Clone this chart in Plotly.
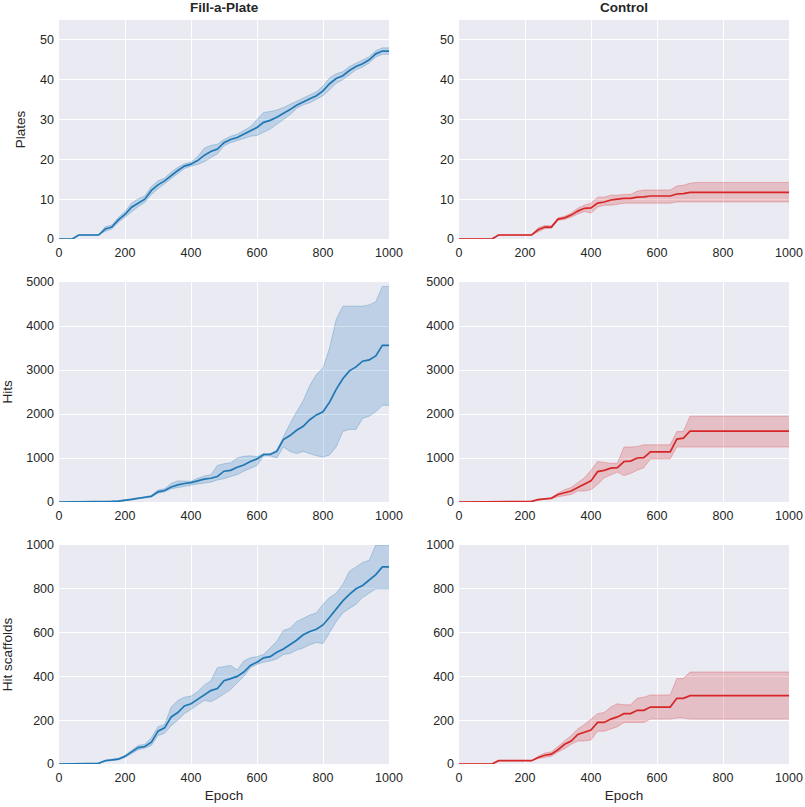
import plotly.graph_objects as go

epochs = list(range(0, 1001, 20))

# Fill-a-Plate : Plates
fap_plates_mean = [0, 0, 0, 1, 1, 1, 1, 2.5, 3, 4.8, 6.2, 8, 9.1, 10, 12.2, 13.6, 14.6, 16, 17.2, 18.3, 18.8,
                   19.7, 21, 22, 22.6, 24.2, 25, 25.5, 26.3, 27, 28, 29.3, 29.8, 30.6, 31.5, 32.5, 33.6, 34.5,
                   35.2, 36, 37.2, 39, 40.3, 41, 42.3, 43.3, 44, 45, 46.5, 47.2, 47.2]
fap_plates_lo = [0, 0, 0, 1, 1, 1, 1, 1.9, 2.5, 4.2, 5.5, 7, 8.1, 9.2, 11.2, 12.6, 13.9, 15.2, 16.4, 17.7, 18.3,
                 18.7, 19.4, 20.5, 21.4, 23.4, 24.2, 24.7, 25.3, 25.8, 26, 26.8, 27.6, 28.8, 30, 31.2, 32.8, 33.7,
                 34.2, 35, 36, 37.5, 39.1, 40, 41.3, 42.5, 43.2, 44.2, 45.7, 46.4, 46.4]
fap_plates_hi = [0, 0, 0, 1, 1, 1, 1, 3.1, 3.5, 5.4, 6.9, 9, 10.1, 10.8, 13.2, 14.6, 15.3, 16.8, 18, 18.9, 19.3,
                 20.7, 22.8, 23.5, 23.8, 25, 25.8, 26.3, 27.3, 28.2, 30, 31.8, 32, 32.4, 33, 33.8, 34.4, 35.3,
                 36.2, 37, 38.4, 40.5, 41.5, 42, 43.3, 44.1, 44.8, 45.8, 47.3, 48, 48]

# Control : Plates
ctl_plates_mean = [0, 0, 0, 0, 0, 0, 1, 1, 1, 1, 1, 1, 2.3, 3, 3, 5, 5.3, 6, 7, 7.7, 7.8,
                   9, 9.3, 9.8, 10, 10.2, 10.2, 10.5, 10.6, 10.8, 10.8, 10.8, 10.8, 11.3, 11.4, 11.7, 11.7, 11.7,
                   11.7, 11.7, 11.7, 11.7, 11.7, 11.7, 11.7, 11.7, 11.7, 11.7, 11.7, 11.7, 11.7]
ctl_plates_lo = [0, 0, 0, 0, 0, 0, 1, 1, 1, 1, 1, 1, 1.8, 2.6, 2.7, 4.7, 4.9, 5.5, 6.3, 6.9, 6.5,
                 8, 8.5, 8.5, 8.7, 9, 9, 9, 9, 9, 9, 9, 9, 9.3, 9.3, 9.3, 9.3, 9.3,
                 9.3, 9.3, 9.3, 9.3, 9.3, 9.3, 9.3, 9.3, 9.3, 9.3, 9.3, 9.3, 9.3]
ctl_plates_hi = [0, 0, 0, 0, 0, 0, 1, 1, 1, 1, 1, 1, 2.8, 3.4, 3.3, 5.3, 5.7, 6.5, 7.7, 8.5, 9,
                 10.5, 10.5, 11, 11, 11.2, 11.2, 12, 12.3, 12.3, 12.3, 12.3, 12.3, 13.3, 13.5, 14, 14.2, 14.2,
                 14.2, 14.2, 14.2, 14.2, 14.2, 14.2, 14.2, 14.2, 14.2, 14.2, 14.2, 14.2, 14.2]

# Fill-a-Plate : Hits
fap_hits_mean = [0, 0, 0, 0, 0, 0, 5, 8, 12, 20, 35, 60, 85, 100, 130, 230, 260, 340, 390, 420, 440,
                 480, 520, 540, 580, 700, 720, 790, 840, 920, 980, 1080, 1080, 1150, 1420, 1510, 1630, 1720,
                 1870, 1980, 2050, 2270, 2560, 2800, 2980, 3070, 3200, 3230, 3320, 3560, 3560]
fap_hits_lo = [0, 0, 0, 0, 0, 0, 3, 5, 9, 15, 28, 50, 72, 85, 110, 200, 230, 300, 330, 360, 380,
               410, 430, 450, 500, 530, 580, 620, 700, 760, 830, 1050, 1050, 1000, 1250, 1150, 1100, 1150,
               1100, 1050, 1020, 1070, 1250, 1600, 1650, 1650, 1900, 1950, 2050, 2200, 2200]
fap_hits_hi = [0, 0, 0, 0, 0, 0, 7, 11, 15, 25, 42, 70, 98, 115, 150, 270, 300, 420, 480, 470, 470,
               540, 590, 620, 830, 870, 890, 1000, 1040, 1050, 1030, 1100, 1100, 1180, 1500, 1780, 2050, 2300,
               2650, 2900, 3050, 3500, 4150, 4450, 4450, 4450, 4450, 4480, 4550, 4900, 4900]

# Control : Hits
ctl_hits_mean = [0, 0, 0, 0, 0, 5, 10, 10, 10, 10, 10, 15, 55, 70, 85, 170, 210, 250, 330, 400, 480,
                 690, 720, 770, 780, 920, 930, 1000, 1010, 1140, 1140, 1140, 1140, 1430, 1450, 1610, 1610, 1610,
                 1610, 1610, 1610, 1610, 1610, 1610, 1610, 1610, 1610, 1610, 1610, 1610, 1610]
ctl_hits_lo = [0, 0, 0, 0, 0, 5, 10, 10, 10, 10, 10, 12, 45, 60, 70, 120, 140, 170, 250, 250, 280,
               400, 550, 620, 680, 600, 650, 720, 780, 980, 980, 980, 980, 1250, 1250, 1260, 1250, 1250,
               1250, 1250, 1250, 1250, 1250, 1250, 1250, 1250, 1250, 1250, 1250, 1250, 1250]
ctl_hits_hi = [0, 0, 0, 0, 0, 5, 10, 10, 10, 10, 10, 18, 65, 80, 100, 200, 280, 330, 440, 550, 720,
               920, 900, 880, 880, 1250, 1250, 1260, 1300, 1300, 1300, 1300, 1300, 1600, 1600, 1950, 1950, 1950,
               1950, 1950, 1950, 1950, 1950, 1950, 1950, 1950, 1950, 1950, 1950, 1950, 1950]

# Fill-a-Plate : Hit scaffolds
fap_scaf_mean = [0, 0, 0, 3, 3, 3, 3, 15, 18, 22, 35, 55, 75, 80, 100, 150, 165, 215, 235, 265, 275,
                 295, 315, 335, 345, 380, 390, 400, 420, 450, 465, 485, 490, 510, 525, 545, 565, 590,
                 605, 615, 635, 670, 710, 745, 775, 800, 815, 840, 865, 900, 900]
fap_scaf_lo = [0, 0, 0, 3, 3, 3, 3, 12, 15, 19, 30, 48, 65, 72, 85, 130, 140, 175, 200, 230, 250,
               270, 290, 285, 300, 320, 340, 370, 400, 440, 455, 465, 470, 480, 500, 505, 520, 530,
               545, 555, 550, 600, 650, 690, 710, 730, 760, 780, 800, 800, 800]
fap_scaf_hi = [0, 0, 0, 3, 3, 3, 3, 18, 21, 26, 40, 62, 85, 90, 120, 170, 180, 260, 290, 305, 310,
               330, 360, 380, 440, 445, 450, 430, 470, 485, 490, 500, 530, 560, 610, 620, 650, 665,
               680, 690, 730, 760, 780, 820, 880, 900, 920, 930, 1000, 1000, 1000]

# Control : Hit scaffolds
ctl_scaf_mean = [0, 0, 0, 0, 0, 0, 15, 15, 15, 15, 15, 15, 30, 40, 45, 65, 90, 105, 135, 145, 155,
                 190, 190, 205, 215, 230, 230, 245, 245, 260, 260, 260, 260, 300, 300, 312, 312, 312,
                 312, 312, 312, 312, 312, 312, 312, 312, 312, 312, 312, 312, 312]
ctl_scaf_lo = [0, 0, 0, 0, 0, 0, 15, 15, 15, 15, 15, 15, 25, 30, 35, 55, 70, 90, 105, 105, 110,
               150, 150, 160, 170, 190, 190, 190, 190, 205, 205, 205, 205, 210, 210, 205, 205, 205,
               205, 205, 205, 205, 205, 205, 205, 205, 205, 205, 205, 205, 205]
ctl_scaf_hi = [0, 0, 0, 0, 0, 0, 15, 15, 15, 15, 15, 15, 35, 50, 55, 80, 105, 130, 160, 180, 205,
               230, 235, 260, 275, 270, 270, 300, 305, 315, 315, 315, 315, 390, 390, 420, 420, 420,
               420, 420, 420, 420, 420, 420, 420, 420, 420, 420, 420, 420, 420]

col_titles = ["Fill-a-Plate", "Control"]
row_labels = ["Plates", "Hits", "Hit scaffolds"]
y_ranges = [[0, 55], [0, 5000], [0, 1000]]
y_dticks = [10, 1000, 200]
x_ticks = [0, 200, 400, 600, 800, 1000]
x_label = "Epoch"

panels = [
    [(fap_plates_mean, fap_plates_lo, fap_plates_hi), (ctl_plates_mean, ctl_plates_lo, ctl_plates_hi)],
    [(fap_hits_mean, fap_hits_lo, fap_hits_hi), (ctl_hits_mean, ctl_hits_lo, ctl_hits_hi)],
    [(fap_scaf_mean, fap_scaf_lo, fap_scaf_hi), (ctl_scaf_mean, ctl_scaf_lo, ctl_scaf_hi)],
]
colors = [(31, 119, 180), (214, 39, 40)]

W, H = 805, 807
x_dom = [[59 / W, 389 / W], [459 / W, 789 / W]]
y_px = [(20, 239), (282, 502), (545, 764)]
y_dom = [[1 - b / H, 1 - t / H] for t, b in y_px]

FONT = "Liberation Sans, Arial, sans-serif"
TXT = "#262626"

fig = go.Figure()
layout = {}
for r in range(3):
    for c in range(2):
        idx = r * 2 + c + 1
        xa = "x" if idx == 1 else f"x{idx}"
        ya = "y" if idx == 1 else f"y{idx}"
        mean, lo, hi = panels[r][c]
        rgb = colors[c]
        fill = f"rgba({rgb[0]},{rgb[1]},{rgb[2]},0.22)"
        edge = f"rgba({rgb[0]},{rgb[1]},{rgb[2]},0.28)"
        line = f"rgb({rgb[0]},{rgb[1]},{rgb[2]})"
        fig.add_trace(go.Scatter(x=epochs, y=lo, mode="lines", line=dict(color=edge, width=1),
                                 xaxis=xa, yaxis=ya, showlegend=False, hoverinfo="skip"))
        fig.add_trace(go.Scatter(x=epochs, y=hi, mode="lines", line=dict(color=edge, width=1),
                                 fill="tonexty", fillcolor=fill,
                                 xaxis=xa, yaxis=ya, showlegend=False, hoverinfo="skip"))
        fig.add_trace(go.Scatter(x=epochs, y=mean, mode="lines", line=dict(color=line, width=1.7),
                                 xaxis=xa, yaxis=ya, showlegend=False))
        xkey = "xaxis" if idx == 1 else f"xaxis{idx}"
        ykey = "yaxis" if idx == 1 else f"yaxis{idx}"
        layout[xkey] = dict(
            domain=x_dom[c], anchor=ya, range=[0, 1000], tickvals=x_ticks, automargin=False,
            showgrid=True, gridcolor="white", gridwidth=1.3, zeroline=False,
            showline=False, ticks="", ticklabelstandoff=4,
            tickfont=dict(size=12.5, color=TXT, family=FONT),
            title=dict(text=x_label if r == 2 else "", font=dict(size=13.5, color=TXT, family=FONT), standoff=7),
        )
        layout[ykey] = dict(
            domain=y_dom[r], anchor=xa, range=y_ranges[r], dtick=y_dticks[r], tick0=0, automargin=False,
            showgrid=True, gridcolor="white", gridwidth=1.3, zeroline=False,
            showline=False, ticks="", ticklabelstandoff=4,
            tickfont=dict(size=12.5, color=TXT, family=FONT),
            title=dict(text=row_labels[r] if c == 0 else "", font=dict(size=13.5, color=TXT, family=FONT), standoff=11),
        )

annotations = []
for c in range(2):
    annotations.append(dict(text=f"<b>{col_titles[c]}</b>", x=(x_dom[c][0] + x_dom[c][1]) / 2, y=1 - 8 / H,
                            xref="paper", yref="paper", xanchor="center", yanchor="middle", showarrow=False,
                            font=dict(size=13.5, color=TXT, family=FONT)))

fig.update_layout(
    width=W, height=H, margin=dict(l=0, r=0, t=0, b=0, autoexpand=False),
    paper_bgcolor="white", plot_bgcolor="#eaeaf2",
    annotations=annotations, font=dict(family=FONT, color=TXT),
    **layout,
)
fig.write_html("out.html", config={"displayModeBar": False},
               post_script="document.body.style.margin='0';document.body.style.overflow='hidden';")
